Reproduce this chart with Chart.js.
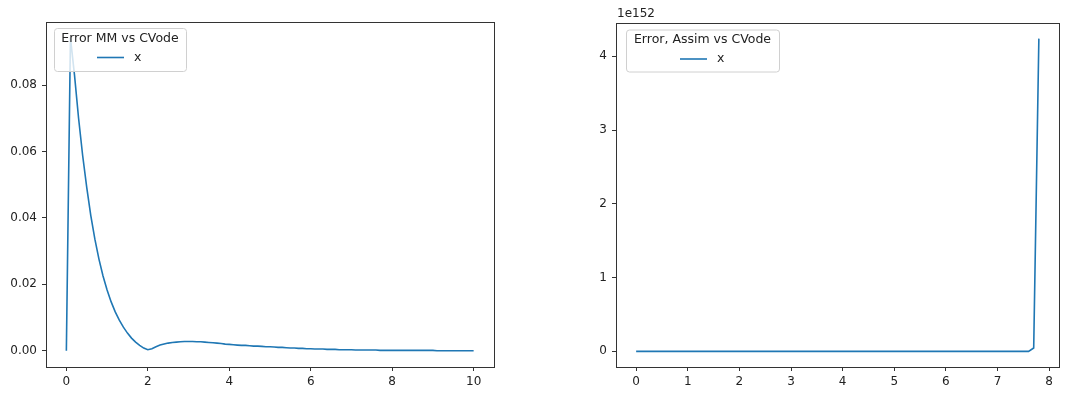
<!DOCTYPE html>
<html>
<head>
<meta charset="utf-8">
<script src="https://cdn.jsdelivr.net/npm/chart.js@4/dist/chart.umd.min.js"></script>
<style>
  html, body { margin: 0; padding: 0; background: #fff; }
  #wrap { position: relative; width: 1087px; height: 403px; }
  canvas { position: absolute; top: 0; }
</style>
</head>
<body>
<div id="wrap">
  <canvas id="mmChart" width="540" height="403" style="left:0;width:540px;height:403px"></canvas>
  <canvas id="assimChart" width="547" height="403" style="left:540px;width:547px;height:403px"></canvas>
</div>
<script>
// time step of both runs
const dtMM = 0.1;
const dtAssim = 0.1;

// |x_MM - x_CVode|, t = 0 .. 10
const errMM = [
  0.0000, 0.0943, 0.0830, 0.0700, 0.0588, 0.0492, 0.0407, 0.0336, 0.0276, 0.0225,
  0.0183, 0.0147, 0.0117, 0.0092, 0.0071, 0.0053, 0.0038, 0.0026, 0.0016, 0.0008,
  0.0003, 0.0006, 0.0012, 0.0017, 0.0020, 0.0023, 0.0025, 0.0026, 0.0027, 0.0028,
  0.0028, 0.0028, 0.0027, 0.0027, 0.0026, 0.0025, 0.0024, 0.0023, 0.0022, 0.0020,
  0.0019, 0.0018, 0.0017, 0.0016, 0.0016, 0.0015, 0.0014, 0.0014, 0.0013, 0.0012,
  0.0012, 0.0011, 0.0010, 0.0010, 0.0009, 0.0008, 0.0008, 0.0007, 0.0007, 0.0006,
  0.0006, 0.0005, 0.0005, 0.0005, 0.0004, 0.0004, 0.0004, 0.0003, 0.0003, 0.0003,
  0.0003, 0.0002, 0.0002, 0.0002, 0.0002, 0.0002, 0.0002, 0.0001, 0.0001, 0.0001,
  0.0001, 0.0001, 0.0001, 0.0001, 0.0001, 0.0001, 0.0001, 0.0001, 0.0001, 0.0001,
  0.0001, 0.0000, 0.0000, 0.0000, 0.0000, 0.0000, 0.0000, 0.0000, 0.0000, 0.0000,
  0.0000
];

// |x_Assim - x_CVode|, t = 0 .. 7.8 (blows up at the end)
const errAssim = [
  0, 0, 0, 0, 0, 0, 0, 0, 0, 0,
  0, 0, 0, 0, 0, 0, 0, 0, 0, 0,
  0, 0, 0, 0, 0, 0, 0, 0, 0, 0,
  0, 0, 0, 0, 0, 0, 0, 0, 0, 0,
  0, 0, 0, 0, 0, 0, 0, 0, 0, 0,
  0, 0, 0, 0, 0, 0, 0, 0, 0, 0,
  0, 0, 0, 0, 0, 0, 0, 0, 0, 0,
  0, 0, 0, 0, 0, 0, 0, 0.046e152, 4.24e152
];
const assimExponent = 152;

const mmXTicks = [0, 2, 4, 6, 8, 10];
const mmYTicks = [0.00, 0.02, 0.04, 0.06, 0.08];
const assimXTicks = [0, 1, 2, 3, 4, 5, 6, 7, 8];
const assimYTicks = [0, 1, 2, 3, 4];

const BLUE = '#1f77b4';
const INK = '#222';
const SPINE = '#333';
const FONT = "'DejaVu Sans', sans-serif";

function toPoints(dt, values) {
  return values.map((v, i) => ({ x: Math.round(i * dt * 10) / 10, y: v }));
}

// spines, legend box and offset text, drawn on top of the line
const framePlugin = {
  id: 'frame',
  afterDatasetsDraw(chart, args, o) {
    const { ctx, chartArea: a } = chart;
    ctx.save();
    ctx.strokeStyle = SPINE;
    ctx.lineWidth = 1;
    ctx.strokeRect(Math.round(a.left) + 0.5, Math.round(a.top) + 0.5,
      Math.round(a.right - a.left), Math.round(a.bottom - a.top));

    // legend
    const lx = a.left + o.legend.dx, ly = a.top + o.legend.dy;
    const w = o.legend.w, h = o.legend.h, r = 3;
    ctx.beginPath();
    ctx.roundRect(lx + 0.5, ly + 0.5, w, h, r);
    ctx.fillStyle = 'rgba(255,255,255,0.8)';
    ctx.fill();
    ctx.strokeStyle = '#d0d0d0';
    ctx.stroke();

    ctx.fillStyle = INK;
    ctx.font = '12.5px ' + FONT;
    ctx.textAlign = 'center';
    ctx.textBaseline = 'middle';
    ctx.fillText(o.legend.title, lx + w / 2, ly + 10.5);

    const hy = ly + 29.5;
    ctx.strokeStyle = BLUE;
    ctx.lineWidth = 1.6;
    ctx.beginPath();
    ctx.moveTo(lx + o.legend.hx, hy);
    ctx.lineTo(lx + o.legend.hx + 27, hy);
    ctx.stroke();
    ctx.textAlign = 'left';
    ctx.fillText('x', lx + o.legend.hx + 37, hy);

    if (o.offsetText) {
      ctx.font = '12px ' + FONT;
      ctx.textAlign = 'left';
      ctx.textBaseline = 'middle';
      ctx.fillText(o.offsetText, a.left + 1, a.top - 9.5);
    }
    ctx.restore();
  }
};

function makeChart(id, dt, values, cfg) {
  return new Chart(document.getElementById(id), {
    type: 'line',
    data: {
      datasets: [{
        data: toPoints(dt, values),
        borderColor: BLUE,
        borderWidth: 1.6,
        pointRadius: 0,
        tension: 0,
        fill: false
      }]
    },
    options: {
      responsive: false,
      animation: false,
      events: [],
      layout: { padding: cfg.padding },
      plugins: {
        legend: { display: false },
        tooltip: { enabled: false },
        frame: cfg.frame
      },
      scales: {
        x: {
          type: 'linear',
          min: cfg.xMin,
          max: cfg.xMax,
          afterFit: s => { s.height = 36; },
          afterBuildTicks: s => { s.ticks = cfg.xTicks.map(v => ({ value: v })); },
          border: { display: false },
          grid: { drawOnChartArea: false, drawTicks: true, tickLength: 4, color: SPINE },
          ticks: {
            color: INK, padding: 4, maxRotation: 0, autoSkip: false,
            font: { family: FONT, size: 12 },
            callback: v => String(v)
          }
        },
        y: {
          type: 'linear',
          min: cfg.yMin,
          max: cfg.yMax,
          afterFit: s => { s.width = cfg.yWidth; },
          afterBuildTicks: s => { s.ticks = cfg.yTicks.map(v => ({ value: v * cfg.yScale })); },
          border: { display: false },
          grid: { drawOnChartArea: false, drawTicks: true, tickLength: 4, color: SPINE },
          ticks: {
            color: INK, padding: 5, autoSkip: false,
            font: { family: FONT, size: 12 },
            callback: cfg.yLabel
          }
        }
      }
    },
    plugins: [framePlugin]
  });
}

makeChart('mmChart', dtMM, errMM, {
  padding: { left: 0, top: 22, right: 46, bottom: 0 },
  yWidth: 46,
  xMin: -0.5, xMax: 10.5,
  yMin: -0.0049, yMax: 0.0990,
  xTicks: mmXTicks, yTicks: mmYTicks, yScale: 1,
  yLabel: v => v.toFixed(2),
  frame: {
    legend: { title: 'Error MM vs CVode', dx: 8, dy: 6, w: 132, h: 43, hx: 43 }
  }
});

const pow = Math.pow(10, assimExponent);
makeChart('assimChart', dtAssim, errAssim, {
  padding: { left: 0, top: 23, right: 28, bottom: 0 },
  yWidth: 76,
  xMin: -0.39, xMax: 8.19,
  yMin: -0.212 * pow, yMax: 4.452 * pow,
  xTicks: assimXTicks, yTicks: assimYTicks, yScale: pow,
  yLabel: v => String(Math.round(v / pow)),
  frame: {
    legend: { title: 'Error, Assim vs CVode', dx: 10, dy: 6.5, w: 153, h: 42, hx: 54 },
    offsetText: '1e' + assimExponent
  }
});
</script>
</body>
</html>
